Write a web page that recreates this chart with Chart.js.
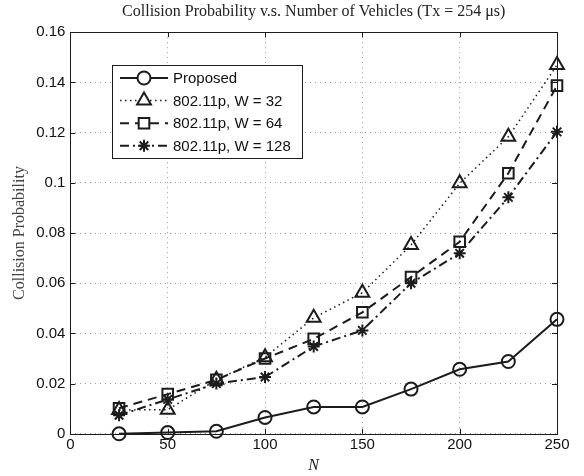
<!DOCTYPE html>
<html>
<head>
<meta charset="utf-8">
<script src="https://cdn.jsdelivr.net/npm/chart.js@4"></script>
<style>
html, body { margin: 0; padding: 0; background: #fff; }
#wrap { width: 584px; height: 476px; }
</style>
</head>
<body>
<div id="wrap"><canvas id="c"></canvas></div>
<script>
// Collision probability vs number of vehicles
var nVehicles = [25, 50, 75, 100, 125, 150, 175, 200, 225, 250];
var proposed  = [0, 0.0005, 0.001, 0.0065, 0.0107, 0.0107, 0.0178, 0.0257, 0.0288, 0.0456];
var w32       = [0.0095, 0.0096, 0.0215, 0.0305, 0.0462, 0.0562, 0.0752, 0.0998, 0.1183, 0.1469];
var w64       = [0.0102, 0.0158, 0.0215, 0.0300, 0.0378, 0.0484, 0.0624, 0.0765, 0.1038, 0.1387];
var w128      = [0.0074, 0.0137, 0.0200, 0.0226, 0.0348, 0.0412, 0.0600, 0.0719, 0.0942, 0.1203];
var seriesLabels = ['Proposed', '802.11p, W = 32', '802.11p, W = 64', '802.11p, W = 128'];

var INK = '#1c1c1c';
var SANS = '"Liberation Sans", Arial, sans-serif';
var SERIF = '"Liberation Serif", "DejaVu Serif", serif';

function pts(ys) { return nVehicles.map(function (x, i) { return { x: x, y: ys[i] }; }); }

function series(label, ys, style, radius, dash, width) {
    return {
        label: label, data: pts(ys), clip: false,
        borderColor: INK, borderWidth: width, borderDash: dash,
        pointStyle: style, pointRadius: radius, pointHoverRadius: radius,
        pointBorderColor: INK, pointBackgroundColor: 'rgba(0,0,0,0)', pointBorderWidth: 2,
        fill: false, tension: 0
    };
}

var datasets = [
    series(seriesLabels[0], proposed, 'circle', 6.5, [], 2),
    series(seriesLabels[1], w32, 'triangle', 8, [1.5, 3.5], 1.5),
    series(seriesLabels[2], w64, 'rect', 7.5, [9, 6], 2),
    series(seriesLabels[3], w128, 'star', 6, [9, 4, 2, 4], 2)
];

// box round the axes, inward tick marks on all sides, and the MATLAB-style legend
var frame = {
    id: 'frame',
    afterDraw: function (chart) {
        var ctx = chart.ctx, a = chart.chartArea;
        var xs = chart.scales.x, ys = chart.scales.y;
        ctx.save();
        ctx.strokeStyle = INK; ctx.lineWidth = 1; ctx.setLineDash([]);
        ctx.strokeRect(Math.round(a.left) + 0.5, Math.round(a.top) + 0.5, Math.round(a.right - a.left), Math.round(a.bottom - a.top));
        ctx.beginPath();
        xs.ticks.forEach(function (t) {
            var px = Math.round(xs.getPixelForValue(t.value)) + 0.5;
            ctx.moveTo(px, a.bottom); ctx.lineTo(px, a.bottom - 5);
            ctx.moveTo(px, a.top); ctx.lineTo(px, a.top + 5);
        });
        ys.ticks.forEach(function (t) {
            var py = Math.round(ys.getPixelForValue(t.value)) + 0.5;
            ctx.moveTo(a.left, py); ctx.lineTo(a.left + 5, py);
            ctx.moveTo(a.right, py); ctx.lineTo(a.right - 5, py);
        });
        ctx.stroke();

        // legend
        var bx = 112, by = 65, bw = 190, bh = 93;
        ctx.fillStyle = '#fff';
        ctx.fillRect(bx, by, bw, bh);
        ctx.strokeRect(bx + 0.5, by + 0.5, bw, bh);
        ctx.font = '15px ' + SANS;
        ctx.textBaseline = 'middle';
        chart.data.datasets.forEach(function (ds, i) {
            var y = by + 13 + i * 22.6;
            ctx.strokeStyle = INK;
            ctx.lineWidth = ds.borderWidth;
            ctx.setLineDash(ds.borderDash);
            ctx.beginPath(); ctx.moveTo(bx + 8, y); ctx.lineTo(bx + 56, y); ctx.stroke();
            ctx.setLineDash([]);
            ctx.lineWidth = 2;
            ctx.fillStyle = '#fff';
            Chart.helpers.drawPoint(ctx, { pointStyle: ds.pointStyle, radius: ds.pointRadius, borderWidth: 2 }, bx + 32, y);
            ctx.fillStyle = '#111';
            ctx.fillText(ds.label, bx + 61, y + 1);
        });
        ctx.restore();
    }
};

new Chart(document.getElementById('c'), {
    type: 'line',
    data: { datasets: datasets },
    options: {
        responsive: true, maintainAspectRatio: false, animation: false,
        layout: { padding: { left: 10, right: 27, top: 0, bottom: 0 } },
        plugins: {
            legend: { display: false },
            tooltip: { enabled: false },
            title: {
                display: true, fullSize: false,
                text: 'Collision Probability v.s. Number of Vehicles (Tx = 254 \u03bcs)',
                color: '#222', font: { family: SERIF, size: 16, weight: 'normal' },
                padding: { top: 2, bottom: 11 }
            }
        },
        scales: {
            x: {
                type: 'linear', min: 0, max: 250,
                ticks: { stepSize: 50, color: '#111', font: { family: SANS, size: 15 }, padding: 2, maxRotation: 0 },
                grid: { color: '#9a9a9a', drawTicks: false, lineWidth: 1 },
                border: { display: false, dash: [1, 4] },
                title: { display: true, text: 'N', color: '#222', font: { family: SERIF, size: 16, style: 'italic' }, padding: { top: 0, bottom: 1 } }
            },
            y: {
                min: 0, max: 0.16,
                ticks: {
                    stepSize: 0.02, color: '#111', font: { family: SANS, size: 15 }, padding: 5,
                    callback: function (v) { return String(+v.toFixed(2)); }
                },
                grid: { color: '#9a9a9a', drawTicks: false, lineWidth: 1 },
                border: { display: false, dash: [1, 4] },
                title: { display: true, text: 'Collision Probability', color: '#444', font: { family: SERIF, size: 16 }, padding: { top: 0, bottom: 2 } }
            }
        }
    },
    plugins: [frame]
});
</script>
</body>
</html>
